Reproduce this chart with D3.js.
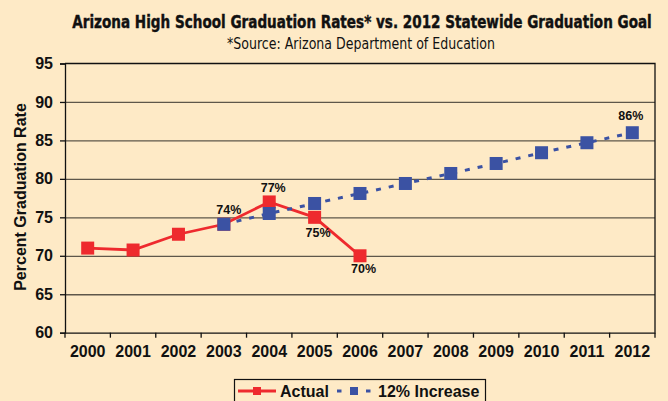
<!DOCTYPE html>
<html>
<head>
<meta charset="utf-8">
<script src="https://cdn.jsdelivr.net/npm/d3@7"></script>
<style>
  html, body { margin: 0; padding: 0; background: #feeac6; }
  svg { display: block; }
</style>
</head>
<body>
<div id="chart-area"></div>
<script>
// Data
const years = ['2000', '2001', '2002', '2003', '2004', '2005', '2006',
  '2007', '2008', '2009', '2010', '2011', '2012'];
const yTicks = [60, 65, 70, 75, 80, 85, 90, 95];

const actualYears = ['2000', '2001', '2002', '2003', '2004', '2005', '2006'];
const actualValues = [71.0, 70.75, 72.8, 74.1, 77.0, 75.0, 70.0];

const goalYears = ['2003', '2004', '2005', '2006', '2007', '2008', '2009', '2010', '2011', '2012'];
const goalValues = [74.1, 75.5, 76.8, 78.1, 79.4, 80.7, 82.0, 83.4, 84.7, 86.0];

const labelSeries = ['goal', 'actual', 'actual', 'actual', 'goal'];
const labelYears = ['2003', '2004', '2005', '2006', '2012'];
const labelTexts = ['74%', '77%', '75%', '70%', '86%'];

const W = 668, H = 401;
const plot = { left: 65, right: 655, top: 63.5, bottom: 332.7 };
const red = '#ee2a2e';
const blue = '#3b52a3';
const font = '"Liberation Sans", Arial, sans-serif';
const narrow = '"Liberation Sans Narrow", "DejaVu Sans Condensed", sans-serif';

const svg = d3.select('#chart-area')
  .append('svg')
    .attr('width', W)
    .attr('height', H);

svg.append('rect')
  .attr('width', W)
  .attr('height', H)
  .attr('fill', '#feeac6');

// Scales
const x = d3.scaleBand()
  .domain(years)
  .range([plot.left, plot.right]);

const y = d3.scaleLinear()
  .domain([60, 95])
  .range([plot.bottom, plot.top]);

const cx = (d) => x(d) + x.bandwidth() / 2;

// Titles, squeezed horizontally to the reference width
function squeezed(cxPos, baseline, width, attrs, str) {
  const g = svg.append('g');
  const t = g.append('text')
    .attr('text-anchor', 'middle')
    .attr('fill', '#111');
  Object.keys(attrs).forEach(k => t.attr(k, attrs[k]));
  t.text(str);
  const natural = t.node().getComputedTextLength();
  const k = Math.min(1, width / natural);
  g.attr('transform', 'translate(' + cxPos + ',' + baseline + ') scale(' + k + ',1)');
  return t;
}

squeezed(362, 28, 580, {
  'font-family': narrow, 'font-weight': 'bold', 'font-size': '17px',
  'stroke': '#111', 'stroke-width': 0.4
}, 'Arizona High School Graduation Rates* vs. 2012 Statewide Graduation Goal');

squeezed(361, 48.5, 268, {
  'font-family': narrow, 'font-size': '15px'
}, '*Source: Arizona Department of Education');

svg.append('text')
  .attr('transform', 'translate(25.5,197) rotate(-90)')
  .attr('text-anchor', 'middle')
  .attr('font-family', font)
  .attr('font-weight', 'bold')
  .attr('font-size', '16px')
  .attr('fill', '#111')
  .text('Percent Graduation Rate');

// Gridlines
svg.append('g')
  .attr('class', 'grid')
  .attr('transform', 'translate(' + plot.left + ',0)')
  .call(d3.axisLeft(y).tickValues(yTicks.slice(1, -1))
    .tickSize(-(plot.right - plot.left)).tickFormat(''))
  .call(g => g.select('.domain').remove())
  .call(g => g.selectAll('line').attr('stroke', '#5e574a').attr('stroke-width', 1.3));

// Frame (top + right)
svg.append('path')
  .attr('d', 'M' + plot.left + ',' + plot.top + 'H' + plot.right + 'V' + plot.bottom)
  .attr('fill', 'none')
  .attr('stroke', '#111')
  .attr('stroke-width', 1.3);

// Y Axis
const yAxisCall = d3.axisLeft(y)
  .tickValues(yTicks)
  .tickSize(5)
  .tickPadding(7)
  .tickFormat(d3.format('d'));
svg.append('g')
  .attr('class', 'y-axis')
  .attr('transform', 'translate(' + plot.left + ',0)')
  .call(yAxisCall)
  .call(g => g.select('.domain').attr('stroke', '#111').attr('stroke-width', 1.3))
  .call(g => g.selectAll('line').attr('stroke', '#111').attr('stroke-width', 1.3))
  .call(g => g.selectAll('text')
    .attr('font-family', font)
    .attr('font-weight', 'bold')
    .attr('font-size', '16px')
    .attr('fill', '#111'));

// X Axis
const xAxisCall = d3.axisBottom(x)
  .tickSize(0)
  .tickPadding(13);
const xAxis = svg.append('g')
  .attr('class', 'x-axis')
  .attr('transform', 'translate(0,' + plot.bottom + ')')
  .call(xAxisCall);
xAxis.select('.domain').attr('stroke', '#111').attr('stroke-width', 1.3);
xAxis.selectAll('text')
  .attr('font-family', font)
  .attr('font-weight', 'bold')
  .attr('font-size', '16px')
  .attr('fill', '#111');

// tick marks sit on the band edges
const edges = years.map(d => x(d)).concat([x.range()[1]]);
xAxis.selectAll('.edge-tick')
  .data(edges)
  .enter().append('line')
    .attr('class', 'edge-tick')
    .attr('x1', d => d)
    .attr('x2', d => d)
    .attr('y1', 0)
    .attr('y2', 5)
    .attr('stroke', '#111')
    .attr('stroke-width', 1.3);

// Series
const actual = actualYears.map((d, i) => ({ year: d, value: actualValues[i] }));
const goal = goalYears.map((d, i) => ({ year: d, value: goalValues[i] }));

const line = d3.line()
  .x(d => cx(d.year))
  .y(d => y(d.value));

const sq = 13;

svg.append('path')
  .datum(actual)
  .attr('d', line)
  .attr('fill', 'none')
  .attr('stroke', red)
  .attr('stroke-width', 2.8);

svg.selectAll('.actual-pt')
  .data(actual)
  .enter().append('rect')
    .attr('class', 'actual-pt')
    .attr('x', d => cx(d.year) - sq / 2)
    .attr('y', d => y(d.value) - sq / 2)
    .attr('width', sq)
    .attr('height', sq)
    .attr('fill', red);

svg.append('path')
  .datum(goal)
  .attr('d', line)
  .attr('fill', 'none')
  .attr('stroke', blue)
  .attr('stroke-width', 3)
  .attr('stroke-dasharray', '5,8');

svg.selectAll('.goal-pt')
  .data(goal)
  .enter().append('rect')
    .attr('class', 'goal-pt')
    .attr('x', d => cx(d.year) - sq / 2)
    .attr('y', d => y(d.value) - sq / 2)
    .attr('width', sq)
    .attr('height', sq)
    .attr('fill', blue);

// Point labels
const labelOffset = {
  '2003': [5, -10.5], '2004': [4, -9.7], '2005': [3.5, 20],
  '2006': [3.5, 17.3], '2012': [-1.5, -12.5]
};
labelYears.forEach((yr, i) => {
  const src = labelSeries[i] === 'actual' ? actual : goal;
  const pt = src.find(d => d.year === yr);
  const off = labelOffset[yr];
  svg.append('text')
    .attr('x', cx(yr) + off[0])
    .attr('y', y(pt.value) + off[1])
    .attr('text-anchor', 'middle')
    .attr('font-family', font)
    .attr('font-weight', 'bold')
    .attr('font-size', '12.5px')
    .attr('fill', '#111')
    .text(labelTexts[i]);
});

// Legend
const legend = svg.append('g');
legend.append('rect')
  .attr('x', 234.5)
  .attr('y', 379.5)
  .attr('width', 251)
  .attr('height', 30)
  .attr('fill', '#feeac6')
  .attr('stroke', '#111')
  .attr('stroke-width', 1.2);

legend.append('line')
  .attr('x1', 238).attr('x2', 276)
  .attr('y1', 391).attr('y2', 391)
  .attr('stroke', red)
  .attr('stroke-width', 2.8);
legend.append('rect')
  .attr('x', 253).attr('y', 387)
  .attr('width', 8).attr('height', 8)
  .attr('fill', red);
legend.append('text')
  .attr('x', 280).attr('y', 396.5)
  .attr('font-family', font)
  .attr('font-weight', 'bold')
  .attr('font-size', '16px')
  .attr('fill', '#111')
  .text('Actual');

[[337, 341.5], [366, 370.5]].forEach(seg => {
  legend.append('line')
    .attr('x1', seg[0]).attr('x2', seg[1])
    .attr('y1', 391).attr('y2', 391)
    .attr('stroke', blue)
    .attr('stroke-width', 3);
});
legend.append('rect')
  .attr('x', 350).attr('y', 387)
  .attr('width', 8).attr('height', 8)
  .attr('fill', blue);
legend.append('text')
  .attr('x', 378).attr('y', 396.5)
  .attr('font-family', font)
  .attr('font-weight', 'bold')
  .attr('font-size', '16px')
  .attr('fill', '#111')
  .text('12% Increase');
</script>
</body>
</html>
